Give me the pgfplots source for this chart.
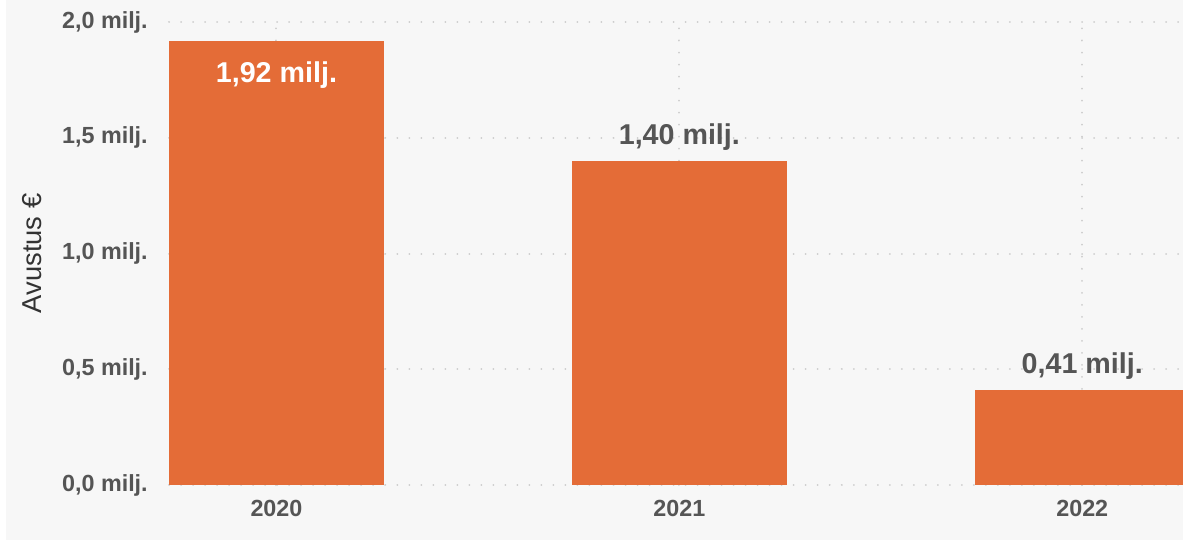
\documentclass[border=0pt]{standalone}
\usepackage{pgfplots}
\pgfplotsset{compat=1.18}
\usepackage{fontspec}
\setmainfont{Liberation Sans}
\definecolor{bg}{HTML}{F7F7F7}
\definecolor{barc}{HTML}{E46C37}
\definecolor{txt}{HTML}{555555}
\definecolor{lab}{HTML}{333333}
\definecolor{grd}{HTML}{CDCDCD}
\begin{document}
\begin{tikzpicture}[x=0.75pt,y=0.75pt]
\fill[white] (0,0) rectangle (1183,540);
\fill[bg] (6,0) rectangle (1183,540);
\path[use as bounding box] (0,0) rectangle (1183,540);
\begin{axis}[
  at={(126.75pt,41.25pt)}, anchor=south west,
  scale only axis, width=760.5pt, height=347.25pt,
  xmin=-0.2667, xmax=2.25, ymin=0, ymax=2,
  axis line style={draw=none}, major tick length=0pt,
  xtick={0,1,2}, xticklabels={2020,2021,2022},
  ytick={0,0.5,1,1.5,2},
  yticklabels={{0,0 milj.},{0,5 milj.},{1,0 milj.},{1,5 milj.},{2,0 milj.}},
  grid=major,
  major grid style={grd, line width=1.5pt, dash pattern=on 0.01pt off 9pt, line cap=round},
  ticklabel style={font=\bfseries\fontsize{17.5}{20}\selectfont, text=txt},
  xticklabel style={anchor=north, inner sep=0pt, yshift=-11.25pt},
  yticklabel style={anchor=east, inner sep=0pt, xshift=-15.75pt},
  ylabel={Avustus €},
  every axis y label/.style={at={(axis description cs:-0.135,0.5)}, rotate=90, anchor=center, font=\fontsize{20.5}{24}\selectfont, text=lab},
]
\addplot[ybar, bar width=161.25pt, bar shift=0pt, fill=barc, draw=none,
  nodes near coords={1,92 milj.},
  every node near coord/.append style={anchor=north, inner sep=0pt, yshift=-15.5pt, text=white, font=\bfseries\fontsize{21.5}{24}\selectfont}]
  coordinates {(0,1.92)};
\addplot[ybar, bar width=161.25pt, bar shift=0pt, fill=barc, draw=none,
  nodes near coords={1,40 milj.},
  every node near coord/.append style={anchor=south, inner sep=0pt, yshift=7.5pt, text=txt, font=\bfseries\fontsize{21.5}{24}\selectfont}]
  coordinates {(1,1.40)};
\addplot[ybar, bar width=161.25pt, bar shift=0pt, fill=barc, draw=none,
  nodes near coords={0,41 milj.},
  every node near coord/.append style={anchor=south, inner sep=0pt, yshift=7.5pt, text=txt, font=\bfseries\fontsize{21.5}{24}\selectfont}]
  coordinates {(2,0.41)};
\end{axis}
\end{tikzpicture}
\end{document}
